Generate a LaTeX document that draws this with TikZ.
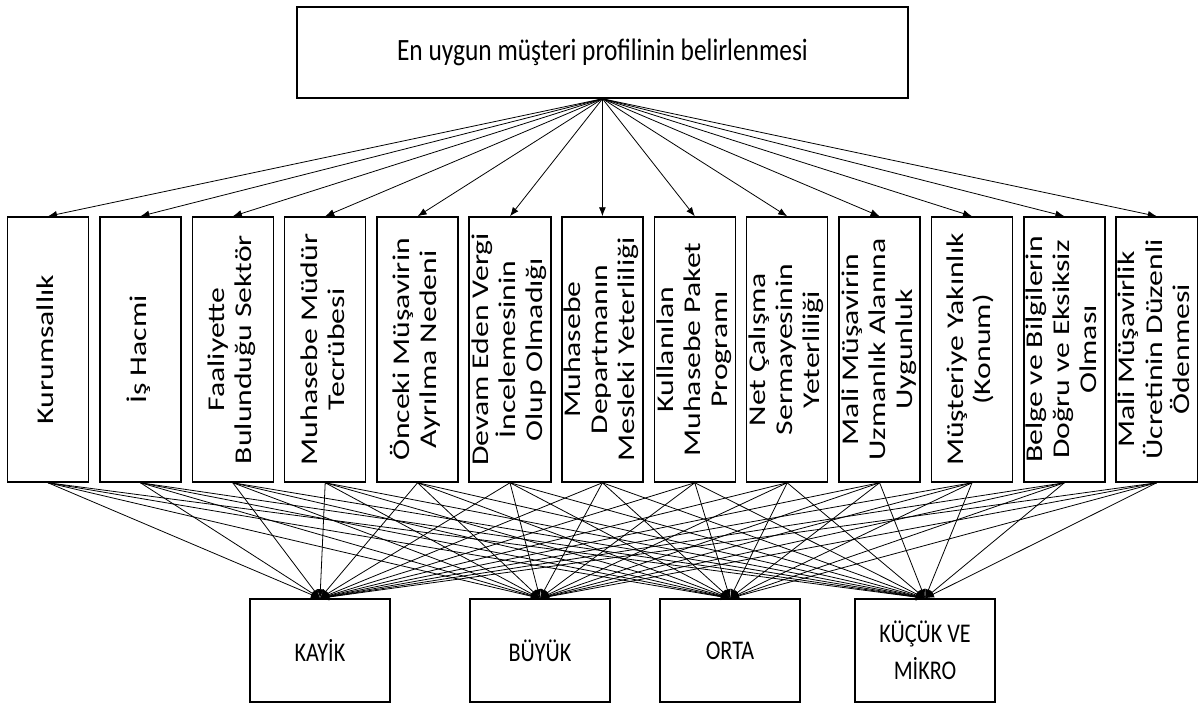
\documentclass[tikz,border=0pt]{standalone}
\usepackage{fontspec}
\usepackage{graphicx}
\setmainfont{Carlito}
\newfontfamily\yatayfont{Carlito}[FakeStretch=0.82]
\newfontfamily\dikfont{Carlito}[FakeStretch=1.32]
\usetikzlibrary{positioning,arrows.meta}

\newcommand{\dik}[1]{\rotatebox{90}{\begin{tabular}{@{}c@{}}#1\end{tabular}}}

\tikzset{
  ustkutu/.style={draw, line width=1.5pt, minimum width=611pt, minimum height=91pt,
    font=\yatayfont\fontsize{31}{37}\selectfont},
  kriter/.style={draw, line width=1.5pt, minimum width=81pt, minimum height=265pt,
    inner sep=0pt, font=\dikfont\fontsize{24}{27}\selectfont},
  sinif/.style={draw, line width=1.5pt, minimum width=140pt, minimum height=103pt,
    align=center, font=\yatayfont\fontsize{27}{37}\selectfont},
  ok/.style={-{Latex[length=9pt,width=7pt]}, line width=0.8pt}
}

\begin{document}
\begin{tikzpicture}[x=1pt,y=1pt,node distance=92.4pt,on grid]
   \useasboundingbox (0,0) rectangle (1199,-705);

   \node[ustkutu] (hedef) at (602.5,-52.5) {En uygun müşteri profilinin belirlenmesi};

   \node[kriter] (k1) at (48,-349.5) {\dik{Kurumsallık}};
   \node[kriter] (k2) [right=of k1] {\dik{İş Hacmi}};
   \node[kriter] (k3) [right=of k2] {\dik{Faaliyette\\Bulunduğu Sektör}};
   \node[kriter] (k4) [right=of k3] {\dik{Muhasebe Müdür\\Tecrübesi}};
   \node[kriter] (k5) [right=of k4] {\dik{Önceki Müşavirin\\Ayrılma Nedeni}};
   \node[kriter] (k6) [right=of k5] {\dik{Devam Eden Vergi\\İncelemesinin\\Olup Olmadığı}};
   \node[kriter] (k7) [right=of k6] {\dik{Muhasebe\\Departmanın\\Mesleki Yeterliliği}};
   \node[kriter] (k8) [right=of k7] {\dik{Kullanılan\\Muhasebe Paket\\Programı}};
   \node[kriter] (k9) [right=of k8] {\dik{Net Çalışma\\Sermayesinin\\Yeterliliği}};
   \node[kriter] (k10) [right=of k9] {\dik{Mali Müşavirin\\Uzmanlık Alanına\\Uygunluk}};
   \node[kriter] (k11) [right=of k10] {\dik{Müşteriye Yakınlık\\(Konum)}};
   \node[kriter] (k12) [right=of k11] {\dik{Belge ve Bilgilerin\\Doğru ve Eksiksiz\\Olması}};
   \node[kriter] (k13) [right=of k12] {\dik{Mali Müşavirlik\\Ücretinin Düzenli\\Ödenmesi}};

   \node[sinif] (kayik) at (320,-650.5) {KAYİK};
   \node[sinif] (buyuk) [right=220pt of kayik] {BÜYÜK};
   \node[sinif] (orta) [right=190pt of buyuk] {ORTA};
   \node[sinif] (kucuk) [right=195pt of orta] {KÜÇÜK VE\\MİKRO};

   \foreach \k in {1,...,13}
     \draw[ok] (hedef.south) -- (k\k.north);

   \foreach \k in {1,...,13}
     \foreach \s in {kayik,buyuk,orta,kucuk}
       \draw[ok] (k\k.south) -- (\s.north);
\end{tikzpicture}
\end{document}
